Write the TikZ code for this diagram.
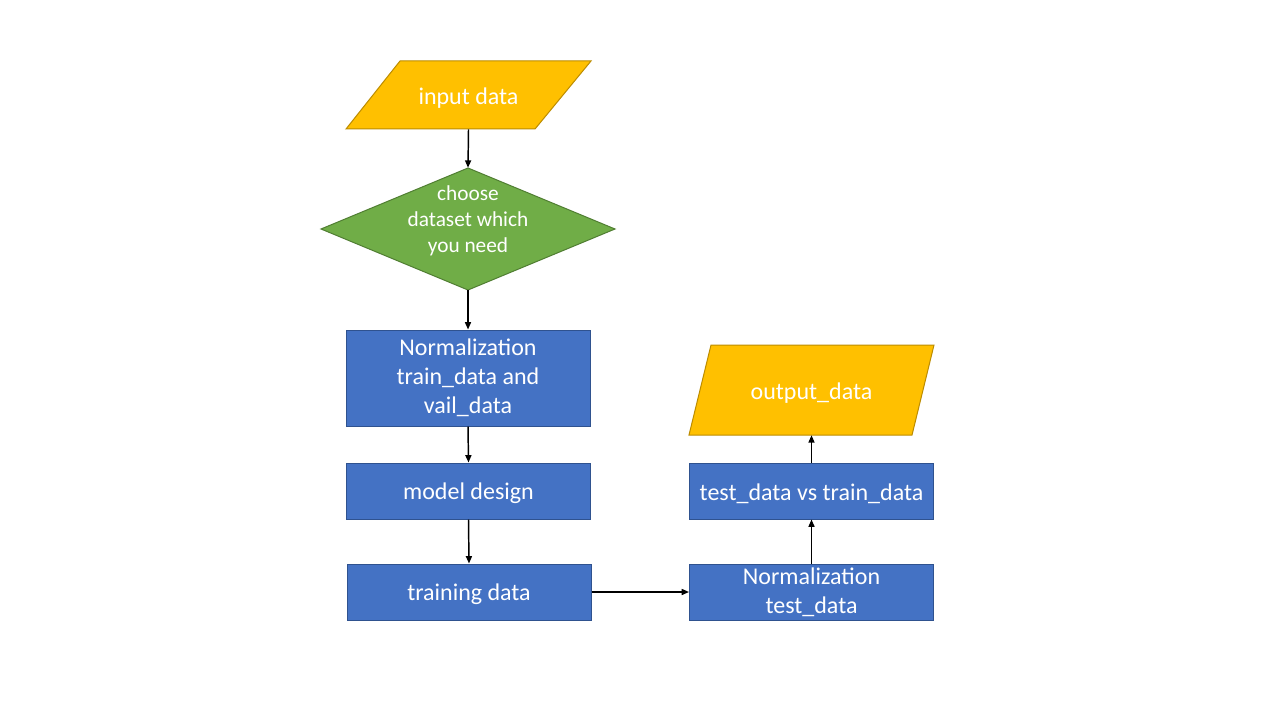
\documentclass[tikz,border=0pt]{standalone}
\usepackage{fontspec}
\setmainfont{Carlito}
\usetikzlibrary{arrows.meta}
\definecolor{boxblue}{HTML}{4472C4}
\definecolor{bordblue}{HTML}{2F528F}
\definecolor{gold}{HTML}{FFC000}
\definecolor{bordgold}{HTML}{BC8C00}
\definecolor{leaf}{HTML}{70AD47}
\definecolor{bordleaf}{HTML}{507E32}
\begin{document}
\begin{tikzpicture}[x=0.75pt,y=-0.75pt,
  box/.style={draw=bordblue, fill=boxblue, line width=0.75pt, minimum width=183pt,
    minimum height=42pt, inner sep=0pt, text=white, align=center,
    font=\fontsize{18}{21.75}\selectfont, execute at begin node={\rule{0pt}{16.5pt}}},
  label/.style={inner sep=0pt, text=white, align=center, minimum height=#1,
    font=\fontsize{18}{21.75}\selectfont, execute at begin node={\rule{0pt}{16.5pt}}},
  arr/.style={draw=black, line width=1.1pt, -{Triangle[length=5.5pt,width=4.5pt]}}]
\useasboundingbox[fill=white] (0,0) rectangle (1280,720);
% shapes drawn directly
\filldraw[fill=gold, draw=bordgold, line width=0.75pt] (400,61) -- (591,61) -- (535,129) -- (346,129) -- cycle;
\filldraw[fill=leaf, draw=bordleaf, line width=0.75pt] (468,168) -- (615,229) -- (468,290) -- (321,229) -- cycle;
\filldraw[fill=gold, draw=bordgold, line width=0.75pt] (711,345) -- (934,345) -- (912,435) -- (689,435) -- cycle;
% nodes
\node[label=51pt] (in) at (468.5,95) {input data};
\node[inner sep=0pt, minimum height=91.5pt] (dia) at (468,229) {};
\node[text=white, align=center, inner sep=0pt, font=\fontsize{16}{19.5}\selectfont] (diatext) at (468,220.5) {choose\\dataset which\\you need};
\node[box, minimum height=72pt] (norm) at (468,378) {Normalization\\train\_data and\\vail\_data};
\node[box] (model) at (468.5,491) {model design};
\node[box] (train) at (469,592) {training data};
\node[box] (normtest) at (811.5,592) {Normalization\\test\_data};
\node[box] (vs) at (811.5,491) {test\_data vs train\_data};
\node[label=67.5pt] (out) at (811.5,390) {output\_data};
% connectors
\draw[arr] (in.south) -- (dia.north);
\draw[arr] (dia.south) -- (norm.north);
\draw[arr] (norm.south) -- (model.north);
\draw[arr] (model.south) -- (train.north);
\draw[arr] (train.east) -- (normtest.west);
\draw[arr] (normtest.north) -- (vs.south);
\draw[arr] (vs.north) -- (out.south);
\end{tikzpicture}
\end{document}
